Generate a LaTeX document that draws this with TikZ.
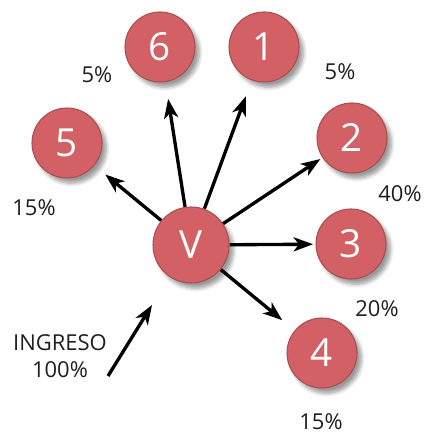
\documentclass[tikz,border=0pt]{standalone}
\usepackage{fontspec}
\setmainfont{Open Sans}
\usepackage{tikz}
\usetikzlibrary{arrows.meta,shadows.blur,backgrounds}
\definecolor{rougeCercle}{RGB}{210,96,100}
\definecolor{grisTexte}{RGB}{30,30,30}

\begin{document}
\begin{tikzpicture}[
  circ/.style={circle,minimum size=1.4cm,inner sep=0pt,fill=rougeCercle,
               draw=rougeCercle!80!black,line width=0.6pt,text=white,
               font=\fontsize{22}{26}\selectfont,
               blur shadow={shadow xshift=2.5pt,shadow yshift=-3pt,shadow blur steps=6}},
  pct/.style={text=grisTexte,font=\fontsize{12.5}{14}\selectfont},
  fl/.style={-{Stealth[length=11pt,width=8pt,inset=3pt]},line width=1.9pt}]
  \useasboundingbox (0,0) rectangle (8.6,8.7);

  % Cercles
  \node[circ,minimum size=1.52cm] (v) at (3.82,3.80) {V};
  \node[circ] (n6) at (3.20,7.76) {6};
  \node[circ] (n1) at (5.28,7.76) {1};
  \node[circ] (n5) at (1.34,5.84) {5};
  \node[circ] (n2) at (7.04,5.94) {2};
  \node[circ] (n3) at (7.02,3.82) {3};
  \node[circ] (n4) at (6.44,1.64) {4};

  % Pourcentages
  \node[pct] (p6) at (1.94,7.20) {5\%};
  \node[pct] (p1) at (6.80,7.26) {5\%};
  \node[pct] (p5) at (0.68,4.54) {15\%};
  \node[pct] (p2) at (8.00,4.82) {40\%};
  \node[pct] (p3) at (7.54,2.52) {20\%};
  \node[pct] (p4) at (6.42,0.26) {15\%};
  \node[pct,align=center,font=\fontsize{12.5}{15.5}\selectfont] (ing) at (1.20,1.58) {INGRESO\\100\%};

  % Flèches
  \coordinate (ing0) at (2.16,1.18);
  \coordinate (ing1) at (3.04,2.60);
  \begin{scope}[on background layer]
    \foreach \t/\g in {n6/0.34,n1/0.34,n5/0.28,n2/0.05,n3/0.05,n4/0.32}
      \draw[fl,shorten >=\g cm] (v) -- (\t);
  \end{scope}
  \draw[fl] (ing0) -- (ing1);
\end{tikzpicture}
\end{document}
